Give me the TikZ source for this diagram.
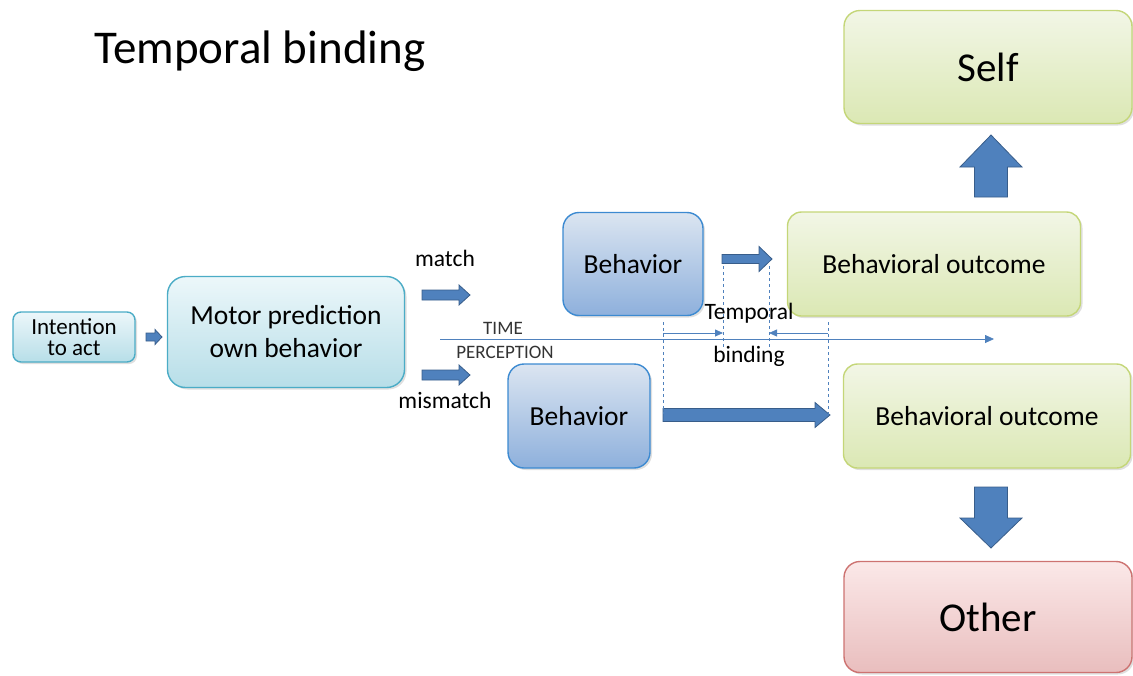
\documentclass[tikz,border=0pt]{standalone}
\usepackage{fontspec}
\setmainfont{Carlito}
\usetikzlibrary{arrows.meta,shadows}

\definecolor{tealline}{RGB}{75,172,198}
\definecolor{arrowfill}{RGB}{79,129,189}
\definecolor{arrowline}{RGB}{56,93,138}
\definecolor{greenline}{RGB}{196,214,120}
\definecolor{redline}{RGB}{192,80,77}

\tikzset{
  box/.style={rectangle, rounded corners=14pt, line width=1.4pt, inner sep=0pt,
    align=center, drop shadow={opacity=0.25, shadow xshift=2pt, shadow yshift=-2pt}},
  lightbox/.style={box, draw=tealline, top color={rgb,255:red,236;green,247;blue,250}, bottom color={rgb,255:red,183;green,222;blue,232}},
  behbox/.style={box, draw=tealline!80!blue, top color={rgb,255:red,219;green,229;blue,241}, bottom color={rgb,255:red,142;green,176;blue,220}},
  outbox/.style={box, draw=greenline, top color={rgb,255:red,242;green,246;blue,230}, bottom color={rgb,255:red,219;green,232;blue,180}},
  otherbox/.style={box, draw=redline!80, top color={rgb,255:red,251;green,232;blue,232}, bottom color={rgb,255:red,233;green,190;blue,190}},
  blockarrow/.style={fill=arrowfill, draw=arrowline, line width=0.8pt, line join=miter},
  dimline/.style={arrowfill, line width=0.8pt},
}

% block arrow: [options]{start}{length}{half body}{half head}{head length}
\newcommand{\blockarr}[6][]{%
  \draw[blockarrow, shift={#2}, #1] (0,#4) -- ({#3-#6},#4) -- ({#3-#6},#5) -- (#3,0)
    -- ({#3-#6},-#5) -- ({#3-#6},-#4) -- (0,-#4) -- cycle;}

\begin{document}
\begin{tikzpicture}[x=1pt, y=-1pt]
    \useasboundingbox (0,0) rectangle (1133,675);

    % Title
    \node[anchor=base west, font=\fontsize{47}{50}\selectfont] (title) at (91,63) {Temporal binding};

    % Left part
    \node[lightbox, rounded corners=8pt, minimum width=122, minimum height=50,
          font=\fontsize{23}{21}\selectfont] (intent) at (74,337) {Intention\\to act};
    \node[lightbox, rounded corners=18pt, minimum width=237, minimum height=111,
          font=\fontsize{27.5}{33}\selectfont] (motor) at (286,332) {Motor prediction\\own behavior};
    \blockarr{(146,337)}{16}{4}{7.5}{7}

    % match / mismatch
    \blockarr{(422,295)}{48}{5}{10}{11}
    \blockarr{(422,375)}{48}{5}{10}{11}
    \node[font=\fontsize{23.5}{24}\selectfont] (match) at (445,258) {match};
    \node[font=\fontsize{23.5}{24}\selectfont] (mismatch) at (445,400) {mismatch};

    % Time axis
    \coordinate (tstart) at (440,339);
    \coordinate (tend) at (994,339);
    \draw[dimline, -{Triangle[length=9pt,width=8pt]}] (tstart) -- (tend);
    \node[font=\fontsize{19}{20}\selectfont, text=black!80] (time) at (503,328) {TIME};
    \node[font=\fontsize{19}{20}\selectfont, text=black!80] (perc) at (505,352) {PERCEPTION};

    % Behaviors
    \node[behbox, rounded corners=16pt, minimum width=140, minimum height=103,
          font=\fontsize{27.5}{28}\selectfont] (behA) at (633,264) {Behavior};
    \node[behbox, rounded corners=16pt, minimum width=142, minimum height=104,
          font=\fontsize{27.5}{28}\selectfont] (behB) at (579,416) {Behavior};

    % Outcomes
    \node[outbox, minimum width=293, minimum height=104,
          font=\fontsize{27.5}{28}\selectfont] (outA) at (934,264) {Behavioral outcome};
    \node[outbox, minimum width=287, minimum height=104,
          font=\fontsize{27.5}{28}\selectfont] (outB) at (987,416) {Behavioral outcome};

    % Self and Other
    \node[outbox, rounded corners=16pt, minimum width=288, minimum height=113,
          font=\fontsize{41}{44}\selectfont] (self) at (988,67) {Self};
    \node[otherbox, rounded corners=16pt, minimum width=288, minimum height=111,
          font=\fontsize{41}{44}\selectfont] (other) at (988,617) {Other};
    \blockarr[rotate=90]{(991,197)}{62}{16.5}{31}{32}
    \blockarr[rotate=-90]{(991,487)}{61}{16.5}{31}{30}

    % Behavior to outcome arrows
    \blockarr{(722,259)}{50}{4.5}{12.5}{13}
    \blockarr{(663,415)}{167}{6.5}{12.5}{15}

    % Temporal binding marks
    \coordinate (d1) at (663,322);
    \coordinate (d2) at (723,266);
    \coordinate (d3) at (769,266);
    \coordinate (d4) at (828,322);
    \draw[dimline, dashed] (d1) -- (663,414);
    \draw[dimline, dashed] (d2) -- (723,350);
    \draw[dimline, dashed] (d3) -- (769,350);
    \draw[dimline, dashed] (d4) -- (828,416);
    \draw[dimline, -{Triangle[length=8pt,width=7pt]}] (663,333) -- (723,333);
    \draw[dimline, -{Triangle[length=8pt,width=7pt]}] (828,333) -- (769,333);
    \node[font=\fontsize{23.5}{24}\selectfont] (temp) at (749,313) {Temporal};
    \node[font=\fontsize{23.5}{24}\selectfont] (bind) at (749,356) {binding};
\end{tikzpicture}
\end{document}
